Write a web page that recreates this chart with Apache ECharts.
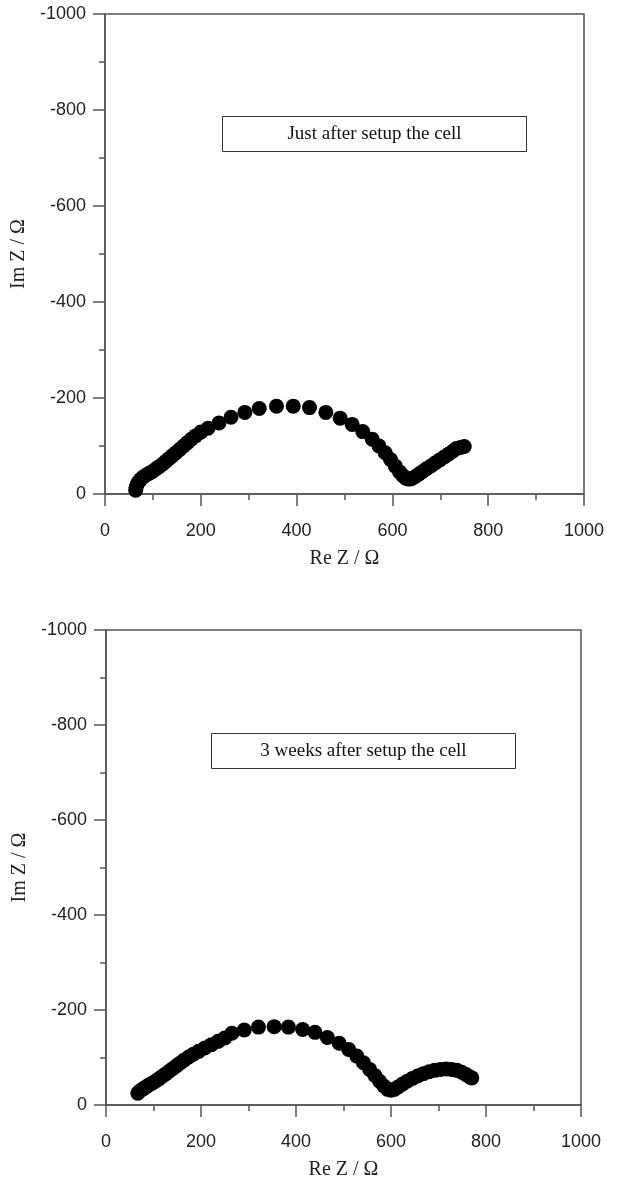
<!DOCTYPE html>
<html>
<head>
<meta charset="utf-8">
<title>Impedance</title>
<script src="https://cdn.jsdelivr.net/npm/echarts@6/dist/echarts.min.js"></script>
<style>
  html, body { margin: 0; padding: 0; background: #fff; }
  #main { width: 617px; height: 1184px; }
</style>
</head>
<body>
<div id="main"></div>
<script>
// Re Z / -Im Z (ohm)
var fresh = [
  [64, 8], [65, 14], [67, 20], [70, 25], [74, 30], [79, 35], [85, 39], [92, 43],
  [99, 47], [106, 52], [113, 57], [120, 62], [127, 68], [134, 74], [141, 80],
  [148, 86], [156, 93], [164, 100], [172, 107], [180, 114], [189, 121], [200, 129],
  [215, 137], [238, 148], [263, 160], [292, 170], [322, 178], [358, 183], [393, 183],
  [427, 180], [461, 170], [491, 158], [516, 145], [538, 130], [558, 114], [572, 100],
  [585, 86], [596, 72], [606, 58], [615, 46], [622, 38], [628, 33], [634, 31],
  [640, 32], [647, 36], [655, 41], [663, 47], [672, 53], [681, 59], [690, 65],
  [699, 71], [708, 77], [717, 83], [726, 89], [734, 95], [742, 97], [750, 99]
];
var weeks3 = [
  [67, 25], [72, 30], [78, 34], [84, 38], [90, 42], [97, 46], [104, 50], [111, 55],
  [118, 60], [125, 65], [133, 71], [141, 77], [149, 83], [157, 89], [165, 95],
  [174, 101], [184, 107], [195, 113], [208, 120], [222, 127], [236, 134], [250, 141],
  [265, 151], [291, 158], [321, 164], [354, 165], [384, 164], [414, 159], [440, 153],
  [466, 142], [491, 130], [511, 117], [528, 103], [542, 89], [555, 75], [566, 62],
  [576, 50], [585, 40], [593, 33], [600, 31], [607, 33], [615, 38], [624, 44],
  [634, 50], [645, 56], [656, 61], [668, 66], [680, 70], [692, 73], [704, 75],
  [716, 76], [728, 75], [739, 73], [749, 69], [758, 64], [766, 59], [770, 57]
];
var captions = ['Just after setup the cell', '3 weeks after setup the cell'];
var axisMax = 1000, axisStep = 200;

var lineColor = '#555';
var tickFont = 'Liberation Sans, Arial, sans-serif';
var serif = 'Liberation Serif, Times New Roman, serif';

function xAxis(i) {
  return {
    type: 'value', gridIndex: i, min: 0, max: axisMax, interval: axisStep,
    name: 'Re Z / Ω', nameLocation: 'middle', nameGap: 55,
    nameTextStyle: { fontFamily: serif, fontSize: 20, color: '#222' },
    axisLine: { show: true, onZero: false, lineStyle: { color: lineColor, width: 1.5 } },
    axisTick: { show: true, inside: false, length: 12, lineStyle: { color: lineColor, width: 1.5 } },
    minorTick: { show: true, splitNumber: 2, length: 6, lineStyle: { color: lineColor, width: 1.5 } },
    axisLabel: {
      fontFamily: tickFont, fontSize: 18, color: '#222', margin: 28,
      formatter: function (v) { return String(v); }
    },
    splitLine: { show: false }
  };
}
function yAxis(i) {
  return {
    type: 'value', gridIndex: i, min: 0, max: axisMax, interval: axisStep,
    name: 'Im Z / Ω', nameLocation: 'middle', nameGap: 68,
    nameTextStyle: { fontFamily: serif, fontSize: 20, color: '#222' },
    axisLine: { show: true, onZero: false, lineStyle: { color: lineColor, width: 1.5 } },
    axisTick: { show: true, inside: false, length: 12, lineStyle: { color: lineColor, width: 1.5 } },
    minorTick: { show: true, splitNumber: 2, length: 6, lineStyle: { color: lineColor, width: 1.5 } },
    axisLabel: {
      fontFamily: tickFont, fontSize: 18, color: '#222', margin: 19,
      formatter: function (v) { return v === 0 ? '0' : '-' + v; }
    },
    splitLine: { show: false }
  };
}
function caption(text, x, y) {
  return {
    type: 'group', left: x, top: y,
    children: [
      { type: 'rect', shape: { x: 0, y: 0, width: 304, height: 35 },
        style: { fill: '#fff', stroke: '#333', lineWidth: 1 } },
      { type: 'text', x: 152, y: 18,
        style: { text: text, fontFamily: serif, fontSize: 19, fill: '#111',
                 align: 'center', verticalAlign: 'middle' } }
    ]
  };
}

var chart = echarts.init(document.getElementById('main'));
chart.setOption({
  animation: false,
  backgroundColor: '#fff',
  grid: [
    { left: 105, width: 479, top: 14, height: 480, show: true, borderColor: lineColor, borderWidth: 1.5 },
    { left: 106, width: 475, top: 630, height: 475, show: true, borderColor: lineColor, borderWidth: 1.5 }
  ],
  xAxis: [xAxis(0), xAxis(1)],
  yAxis: [yAxis(0), yAxis(1)],
  series: [
    { type: 'scatter', xAxisIndex: 0, yAxisIndex: 0, data: fresh,
      symbol: 'circle', symbolSize: 15, itemStyle: { color: '#000', opacity: 1 } },
    { type: 'scatter', xAxisIndex: 1, yAxisIndex: 1, data: weeks3,
      symbol: 'circle', symbolSize: 15, itemStyle: { color: '#000', opacity: 1 } }
  ],
  graphic: [caption(captions[0], 222, 116), caption(captions[1], 211, 733)]
});
</script>
</body>
</html>
